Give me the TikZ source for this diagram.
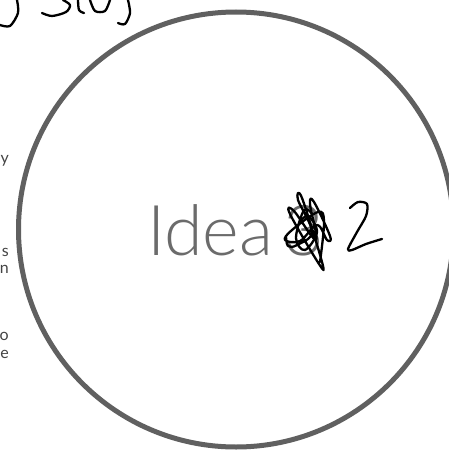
\documentclass[tikz,border=0pt]{standalone}
\usepackage{fontspec}
\newfontfamily\ideafont{Lato Light}
\newfontfamily\sidefont{Lato}
\usetikzlibrary{positioning}
\definecolor{ringgray}{HTML}{606060}
\definecolor{textgray}{HTML}{6B6B6B}
\definecolor{sidegray}{HTML}{444444}

\begin{document}
\begin{tikzpicture}[x=1pt, y=-1pt,
        ring/.style={circle, draw=ringgray, line width=5pt, inner sep=0pt, minimum size=435pt},
        ink/.style={draw=black, line width=2.3pt, line cap=round, line join=round},
        title/.style={font=\ideafont\fontsize{70}{70}\selectfont, text=textgray, inner sep=0pt},
        side/.style={font=\sidefont\fontsize{16}{16}\selectfont, text=sidegray, inner sep=0pt, anchor=base east}
    ]
    \useasboundingbox (0,0) rectangle (449,452);
    \node[ring] (ring) at (236,229.5) {};
    \node[title, anchor=base west] (idea) at (147,255) {Idea};
    \node[title, base right=10pt of idea] (num) {3};
    % scribble over the number
    \draw[ink] plot[smooth, tension=0.6] coordinates {(286,236) (288,246) (297,245) (312,232) (298,200) (302,198) (322,262) (319,264) (290,214) (294,211) (316,240) (310,204) (314,202) (330,236) (327,240) (317,225) (300,241) (285,240) (292,230) (318,212) (324,222) (320,262)};
    \draw[ink] plot[smooth, tension=0.6] coordinates {(300,222) (308,216) (317,232) (305,250) (296,238) (304,210) (312,214)};
    % handwritten 2
    \draw[ink] plot[smooth, tension=0.5] coordinates {(350,208) (358,202) (367,204) (366,216) (357,232) (348,249) (352,250) (366,244) (382,239)};
    % cut-off handwriting at the top
    \draw[ink] plot[smooth] coordinates {(17,0) (18,13) (10,26) (0,25)};
    \draw[ink] plot[smooth] coordinates {(42,13) (52,16) (66,12) (70,5) (63,0)};
    \draw[ink] plot[smooth] coordinates {(78,0) (79,10) (84,13)};
    \draw[ink] plot[smooth] coordinates {(90,0) (95,11) (105,11) (110,0)};
    \draw[ink] plot[smooth] coordinates {(128,0) (130,13) (125,24) (118,23)};
    % cut-off text on the left
    \node[side] (s1) at (9,163) {y};
    \node[side] (s2) at (9,256) {s};
    \node[side] (s3) at (9,273) {n};
    \node[side] (s4) at (9,340) {o};
    \node[side] (s5) at (9,358) {e};
\end{tikzpicture}
\end{document}
